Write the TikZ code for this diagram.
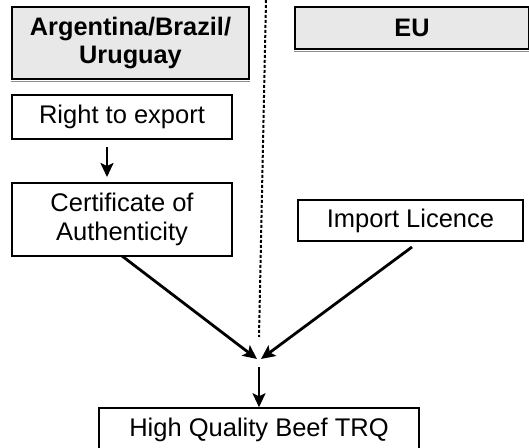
\documentclass[tikz,border=0pt]{standalone}
\usepackage{fontspec}
\setmainfont{Liberation Sans}
\usetikzlibrary{arrows.meta}
\definecolor{panelgray}{RGB}{232,232,232}
\begin{document}
\begin{tikzpicture}[x=1bp,y=-1bp,
  box/.style={draw=black, line width=1.5bp, inner sep=0pt, align=center,
    font=\fontsize{25.6}{29}\selectfont},
  head/.style={box, fill=panelgray, font=\fontsize{25.4}{29}\selectfont\bfseries},
  flow/.style={line width=2.2bp, -{Stealth[length=14bp,width=13bp,inset=3bp]}},
  slant/.style={flow, line width=2.8bp},
  divider/.style={line width=2bp, dash pattern=on 3bp off 2bp}]
\useasboundingbox (0,0) rectangle (529,448);

% column headings
\node[head, minimum width=237bp, minimum height=72bp] (arg) at (130.5,43) {Argentina/Brazil/\\Uruguay};
\node[head, minimum width=234bp, minimum height=42bp] (eu) at (412,28) {EU};
\draw[black!45, line width=1bp] ([yshift=-2bp]arg.south west) -- ([yshift=-2bp]arg.south east);
\draw[black!45, line width=1bp] ([yshift=-2bp]eu.south west) -- ([yshift=-2bp]eu.south east);

% exporting side
\node[box, minimum width=220bp, minimum height=44bp] (rte) at (122,117) {Right to export};
\node[box, minimum width=220bp, minimum height=73bp] (coa) at (122,219.5) {Certificate of\\Authenticity};

% importing side
\node[box, minimum width=225bp, minimum height=41bp] (imp) at (410.5,220.5) {Import Licence};

% result
\node[box, minimum width=320bp, minimum height=44bp] (hq) at (259,430) {High Quality Beef TRQ};

% dividing line between the two sides
\coordinate (dtop) at (266,0);
\coordinate (dbot) at (259,337);
\draw[divider] (dtop) -- (dbot);

% connectors
\coordinate (meet) at (259,359);
\coordinate (a1) at (107,147);
\coordinate (a2) at (107,177);
\draw[flow] (a1) -- (a2);
\coordinate (c1) at (122,256);
\coordinate (i1) at (412,247);
\draw[slant] (c1) -- ([xshift=-2bp]meet);
\draw[slant] (i1) -- ([xshift=2bp]meet);
\coordinate (b1) at (259,367);
\draw[flow] (b1) -- (hq.north);
\end{tikzpicture}
\end{document}
